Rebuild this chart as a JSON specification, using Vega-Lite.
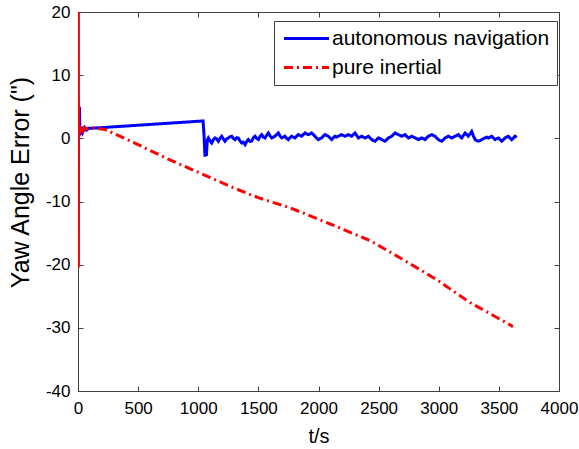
{
  "$schema": "https://vega.github.io/schema/vega-lite/v6.json",
  "width": 481,
  "height": 379,
  "autosize": "none",
  "padding": {"left": 78, "top": 12, "right": 20, "bottom": 58},
  "background": "white",
  "config": {
    "font": "Liberation Sans",
    "view": {"stroke": "#404040", "strokeWidth": 1},
    "axis": {
      "grid": false,
      "domainColor": "#404040",
      "tickColor": "#404040",
      "labelColor": "black",
      "labelFontSize": 17,
      "titleColor": "black",
      "titleFontSize": 20,
      "titleFontWeight": "normal",
      "tickSize": 5
    }
  },
  "data": {
    "values": [
      {"series": "autonomous navigation", "t": 0, "v": 20},
      {"series": "autonomous navigation", "t": 0.5, "v": -20},
      {"series": "autonomous navigation", "t": 3, "v": 0},
      {"series": "autonomous navigation", "t": 8, "v": 4.5},
      {"series": "autonomous navigation", "t": 12, "v": 5},
      {"series": "autonomous navigation", "t": 16, "v": 0.5},
      {"series": "autonomous navigation", "t": 22, "v": 1.2},
      {"series": "autonomous navigation", "t": 30, "v": 1.8},
      {"series": "autonomous navigation", "t": 40, "v": 1.0},
      {"series": "autonomous navigation", "t": 55, "v": 1.7},
      {"series": "autonomous navigation", "t": 70, "v": 1.3},
      {"series": "autonomous navigation", "t": 90, "v": 1.6},
      {"series": "autonomous navigation", "t": 120, "v": 1.6},
      {"series": "autonomous navigation", "t": 200, "v": 1.7},
      {"series": "autonomous navigation", "t": 400, "v": 1.95},
      {"series": "autonomous navigation", "t": 600, "v": 2.2},
      {"series": "autonomous navigation", "t": 800, "v": 2.45},
      {"series": "autonomous navigation", "t": 1000, "v": 2.7},
      {"series": "autonomous navigation", "t": 1040, "v": 2.75},
      {"series": "autonomous navigation", "t": 1048, "v": 0.5},
      {"series": "autonomous navigation", "t": 1056, "v": -2.9},
      {"series": "autonomous navigation", "t": 1062, "v": -1.5},
      {"series": "autonomous navigation", "t": 1068, "v": -2.8},
      {"series": "autonomous navigation", "t": 1075, "v": -0.3},
      {"series": "autonomous navigation", "t": 1084, "v": 0.06},
      {"series": "autonomous navigation", "t": 1098, "v": -0.4},
      {"series": "autonomous navigation", "t": 1112, "v": -0.73},
      {"series": "autonomous navigation", "t": 1126, "v": -0.2},
      {"series": "autonomous navigation", "t": 1139, "v": 0.06},
      {"series": "autonomous navigation", "t": 1153, "v": -0.1},
      {"series": "autonomous navigation", "t": 1167, "v": -0.46},
      {"series": "autonomous navigation", "t": 1181, "v": 0.0},
      {"series": "autonomous navigation", "t": 1195, "v": 0.33},
      {"series": "autonomous navigation", "t": 1209, "v": -0.1},
      {"series": "autonomous navigation", "t": 1222, "v": -0.46},
      {"series": "autonomous navigation", "t": 1236, "v": -0.1},
      {"series": "autonomous navigation", "t": 1250, "v": 0.06},
      {"series": "autonomous navigation", "t": 1264, "v": 0.25},
      {"series": "autonomous navigation", "t": 1278, "v": 0.33},
      {"series": "autonomous navigation", "t": 1292, "v": 0.0},
      {"series": "autonomous navigation", "t": 1306, "v": -0.2},
      {"series": "autonomous navigation", "t": 1320, "v": 0.1},
      {"series": "autonomous navigation", "t": 1333, "v": 0.06},
      {"series": "autonomous navigation", "t": 1347, "v": -0.4},
      {"series": "autonomous navigation", "t": 1361, "v": -0.73},
      {"series": "autonomous navigation", "t": 1375, "v": -0.6},
      {"series": "autonomous navigation", "t": 1389, "v": -1.0},
      {"series": "autonomous navigation", "t": 1403, "v": -0.5},
      {"series": "autonomous navigation", "t": 1417, "v": -0.2},
      {"series": "autonomous navigation", "t": 1430, "v": -0.5},
      {"series": "autonomous navigation", "t": 1444, "v": -0.46},
      {"series": "autonomous navigation", "t": 1458, "v": 0.1},
      {"series": "autonomous navigation", "t": 1472, "v": 0.33},
      {"series": "autonomous navigation", "t": 1486, "v": 0.0},
      {"series": "autonomous navigation", "t": 1500, "v": -0.2},
      {"series": "autonomous navigation", "t": 1514, "v": 0.3},
      {"series": "autonomous navigation", "t": 1527, "v": 0.59},
      {"series": "autonomous navigation", "t": 1541, "v": 0.2},
      {"series": "autonomous navigation", "t": 1555, "v": 0.06},
      {"series": "autonomous navigation", "t": 1569, "v": 0.5},
      {"series": "autonomous navigation", "t": 1583, "v": 0.85},
      {"series": "autonomous navigation", "t": 1597, "v": 0.4},
      {"series": "autonomous navigation", "t": 1611, "v": 0.06},
      {"series": "autonomous navigation", "t": 1625, "v": 0.2},
      {"series": "autonomous navigation", "t": 1638, "v": 0.33},
      {"series": "autonomous navigation", "t": 1652, "v": 0.6},
      {"series": "autonomous navigation", "t": 1666, "v": 0.85},
      {"series": "autonomous navigation", "t": 1680, "v": 0.4},
      {"series": "autonomous navigation", "t": 1694, "v": 0.06},
      {"series": "autonomous navigation", "t": 1708, "v": 0.2},
      {"series": "autonomous navigation", "t": 1721, "v": 0.33},
      {"series": "autonomous navigation", "t": 1735, "v": 0.0},
      {"series": "autonomous navigation", "t": 1749, "v": -0.2},
      {"series": "autonomous navigation", "t": 1763, "v": 0.1},
      {"series": "autonomous navigation", "t": 1777, "v": 0.33},
      {"series": "autonomous navigation", "t": 1791, "v": 0.2},
      {"series": "autonomous navigation", "t": 1805, "v": 0.06},
      {"series": "autonomous navigation", "t": 1819, "v": 0.35},
      {"series": "autonomous navigation", "t": 1832, "v": 0.59},
      {"series": "autonomous navigation", "t": 1846, "v": 0.45},
      {"series": "autonomous navigation", "t": 1860, "v": 0.33},
      {"series": "autonomous navigation", "t": 1874, "v": 0.6},
      {"series": "autonomous navigation", "t": 1888, "v": 0.85},
      {"series": "autonomous navigation", "t": 1902, "v": 0.7},
      {"series": "autonomous navigation", "t": 1915, "v": 0.59},
      {"series": "autonomous navigation", "t": 1929, "v": 0.7},
      {"series": "autonomous navigation", "t": 1943, "v": 0.85},
      {"series": "autonomous navigation", "t": 1957, "v": 0.6},
      {"series": "autonomous navigation", "t": 1971, "v": 0.33},
      {"series": "autonomous navigation", "t": 1985, "v": 0.0},
      {"series": "autonomous navigation", "t": 1999, "v": -0.2},
      {"series": "autonomous navigation", "t": 2013, "v": -0.05},
      {"series": "autonomous navigation", "t": 2026, "v": 0.06},
      {"series": "autonomous navigation", "t": 2040, "v": 0.35},
      {"series": "autonomous navigation", "t": 2054, "v": 0.59},
      {"series": "autonomous navigation", "t": 2068, "v": 0.45},
      {"series": "autonomous navigation", "t": 2082, "v": 0.33},
      {"series": "autonomous navigation", "t": 2096, "v": 0.05},
      {"series": "autonomous navigation", "t": 2110, "v": -0.2},
      {"series": "autonomous navigation", "t": 2124, "v": 0.1},
      {"series": "autonomous navigation", "t": 2137, "v": 0.33},
      {"series": "autonomous navigation", "t": 2151, "v": 0.2},
      {"series": "autonomous navigation", "t": 2165, "v": 0.33},
      {"series": "autonomous navigation", "t": 2179, "v": 0.45},
      {"series": "autonomous navigation", "t": 2193, "v": 0.59},
      {"series": "autonomous navigation", "t": 2207, "v": 0.45},
      {"series": "autonomous navigation", "t": 2220, "v": 0.33},
      {"series": "autonomous navigation", "t": 2234, "v": 0.45},
      {"series": "autonomous navigation", "t": 2248, "v": 0.59},
      {"series": "autonomous navigation", "t": 2262, "v": 0.45},
      {"series": "autonomous navigation", "t": 2276, "v": 0.33},
      {"series": "autonomous navigation", "t": 2290, "v": 0.6},
      {"series": "autonomous navigation", "t": 2304, "v": 0.85},
      {"series": "autonomous navigation", "t": 2318, "v": 0.45},
      {"series": "autonomous navigation", "t": 2332, "v": 0.06},
      {"series": "autonomous navigation", "t": 2345, "v": 0.2},
      {"series": "autonomous navigation", "t": 2359, "v": 0.33},
      {"series": "autonomous navigation", "t": 2373, "v": 0.2},
      {"series": "autonomous navigation", "t": 2387, "v": 0.06},
      {"series": "autonomous navigation", "t": 2401, "v": 0.2},
      {"series": "autonomous navigation", "t": 2415, "v": 0.33},
      {"series": "autonomous navigation", "t": 2429, "v": 0.05},
      {"series": "autonomous navigation", "t": 2443, "v": -0.2},
      {"series": "autonomous navigation", "t": 2457, "v": -0.35},
      {"series": "autonomous navigation", "t": 2470, "v": -0.46},
      {"series": "autonomous navigation", "t": 2484, "v": -0.2},
      {"series": "autonomous navigation", "t": 2498, "v": 0.06},
      {"series": "autonomous navigation", "t": 2512, "v": -0.05},
      {"series": "autonomous navigation", "t": 2526, "v": -0.2},
      {"series": "autonomous navigation", "t": 2540, "v": -0.35},
      {"series": "autonomous navigation", "t": 2553, "v": -0.46},
      {"series": "autonomous navigation", "t": 2567, "v": -0.2},
      {"series": "autonomous navigation", "t": 2581, "v": 0.06},
      {"series": "autonomous navigation", "t": 2595, "v": 0.2},
      {"series": "autonomous navigation", "t": 2609, "v": 0.33},
      {"series": "autonomous navigation", "t": 2623, "v": 0.6},
      {"series": "autonomous navigation", "t": 2637, "v": 0.85},
      {"series": "autonomous navigation", "t": 2650, "v": 0.7},
      {"series": "autonomous navigation", "t": 2664, "v": 0.59},
      {"series": "autonomous navigation", "t": 2678, "v": 0.45},
      {"series": "autonomous navigation", "t": 2692, "v": 0.33},
      {"series": "autonomous navigation", "t": 2706, "v": 0.45},
      {"series": "autonomous navigation", "t": 2720, "v": 0.59},
      {"series": "autonomous navigation", "t": 2734, "v": 0.3},
      {"series": "autonomous navigation", "t": 2748, "v": 0.06},
      {"series": "autonomous navigation", "t": 2762, "v": 0.2},
      {"series": "autonomous navigation", "t": 2775, "v": 0.33},
      {"series": "autonomous navigation", "t": 2789, "v": 0.2},
      {"series": "autonomous navigation", "t": 2803, "v": 0.06},
      {"series": "autonomous navigation", "t": 2817, "v": -0.05},
      {"series": "autonomous navigation", "t": 2831, "v": -0.2},
      {"series": "autonomous navigation", "t": 2845, "v": -0.05},
      {"series": "autonomous navigation", "t": 2858, "v": 0.06},
      {"series": "autonomous navigation", "t": 2872, "v": -0.05},
      {"series": "autonomous navigation", "t": 2886, "v": -0.2},
      {"series": "autonomous navigation", "t": 2900, "v": 0.1},
      {"series": "autonomous navigation", "t": 2914, "v": 0.33},
      {"series": "autonomous navigation", "t": 2928, "v": 0.45},
      {"series": "autonomous navigation", "t": 2942, "v": 0.59},
      {"series": "autonomous navigation", "t": 2955, "v": 0.45},
      {"series": "autonomous navigation", "t": 2969, "v": 0.33},
      {"series": "autonomous navigation", "t": 2983, "v": 0.05},
      {"series": "autonomous navigation", "t": 2997, "v": -0.2},
      {"series": "autonomous navigation", "t": 3011, "v": -0.35},
      {"series": "autonomous navigation", "t": 3025, "v": -0.46},
      {"series": "autonomous navigation", "t": 3039, "v": -0.2},
      {"series": "autonomous navigation", "t": 3052, "v": 0.06},
      {"series": "autonomous navigation", "t": 3066, "v": 0.2},
      {"series": "autonomous navigation", "t": 3080, "v": 0.33},
      {"series": "autonomous navigation", "t": 3094, "v": 0.2},
      {"series": "autonomous navigation", "t": 3108, "v": 0.06},
      {"series": "autonomous navigation", "t": 3122, "v": 0.2},
      {"series": "autonomous navigation", "t": 3136, "v": 0.33},
      {"series": "autonomous navigation", "t": 3150, "v": 0.45},
      {"series": "autonomous navigation", "t": 3163, "v": 0.59},
      {"series": "autonomous navigation", "t": 3177, "v": 0.3},
      {"series": "autonomous navigation", "t": 3191, "v": 0.06},
      {"series": "autonomous navigation", "t": 3205, "v": 0.45},
      {"series": "autonomous navigation", "t": 3219, "v": 0.85},
      {"series": "autonomous navigation", "t": 3233, "v": 0.6},
      {"series": "autonomous navigation", "t": 3246, "v": 0.33},
      {"series": "autonomous navigation", "t": 3260, "v": 0.7},
      {"series": "autonomous navigation", "t": 3274, "v": 1.1},
      {"series": "autonomous navigation", "t": 3288, "v": 0.4},
      {"series": "autonomous navigation", "t": 3302, "v": -0.2},
      {"series": "autonomous navigation", "t": 3316, "v": -0.35},
      {"series": "autonomous navigation", "t": 3330, "v": -0.46},
      {"series": "autonomous navigation", "t": 3344, "v": -0.35},
      {"series": "autonomous navigation", "t": 3357, "v": -0.2},
      {"series": "autonomous navigation", "t": 3371, "v": -0.05},
      {"series": "autonomous navigation", "t": 3385, "v": 0.06},
      {"series": "autonomous navigation", "t": 3399, "v": 0.2},
      {"series": "autonomous navigation", "t": 3413, "v": 0.06},
      {"series": "autonomous navigation", "t": 3427, "v": 0.2},
      {"series": "autonomous navigation", "t": 3441, "v": 0.33},
      {"series": "autonomous navigation", "t": 3455, "v": 0.05},
      {"series": "autonomous navigation", "t": 3468, "v": -0.2},
      {"series": "autonomous navigation", "t": 3482, "v": -0.05},
      {"series": "autonomous navigation", "t": 3496, "v": 0.06},
      {"series": "autonomous navigation", "t": 3510, "v": -0.2},
      {"series": "autonomous navigation", "t": 3524, "v": -0.46},
      {"series": "autonomous navigation", "t": 3538, "v": -0.2},
      {"series": "autonomous navigation", "t": 3551, "v": 0.06},
      {"series": "autonomous navigation", "t": 3565, "v": 0.2},
      {"series": "autonomous navigation", "t": 3579, "v": 0.33},
      {"series": "autonomous navigation", "t": 3593, "v": 0.05},
      {"series": "autonomous navigation", "t": 3607, "v": -0.2},
      {"series": "autonomous navigation", "t": 3621, "v": 0.05},
      {"series": "autonomous navigation", "t": 3635, "v": 0.33},
      {"series": "autonomous navigation", "t": 3648, "v": 0.15},
      {"series": "pure inertial", "t": 0, "v": 20},
      {"series": "pure inertial", "t": 0.4, "v": -20.5},
      {"series": "pure inertial", "t": 0.8, "v": 20},
      {"series": "pure inertial", "t": 1.2, "v": -20.5},
      {"series": "pure inertial", "t": 1.6, "v": 20},
      {"series": "pure inertial", "t": 2.0, "v": -20.5},
      {"series": "pure inertial", "t": 2.4, "v": 20},
      {"series": "pure inertial", "t": 2.8, "v": -20},
      {"series": "pure inertial", "t": 4, "v": 5.8},
      {"series": "pure inertial", "t": 6, "v": 2},
      {"series": "pure inertial", "t": 8, "v": 0},
      {"series": "pure inertial", "t": 11, "v": 2.2},
      {"series": "pure inertial", "t": 14, "v": 0.5},
      {"series": "pure inertial", "t": 18, "v": 1.8},
      {"series": "pure inertial", "t": 24, "v": 0.9},
      {"series": "pure inertial", "t": 32, "v": 1.7},
      {"series": "pure inertial", "t": 42, "v": 1.2},
      {"series": "pure inertial", "t": 55, "v": 1.7},
      {"series": "pure inertial", "t": 70, "v": 1.5},
      {"series": "pure inertial", "t": 100, "v": 1.7},
      {"series": "pure inertial", "t": 150, "v": 1.6},
      {"series": "pure inertial", "t": 225, "v": 1.4},
      {"series": "pure inertial", "t": 500, "v": -1.0},
      {"series": "pure inertial", "t": 750, "v": -3.3},
      {"series": "pure inertial", "t": 1015, "v": -5.5},
      {"series": "pure inertial", "t": 1289, "v": -7.8},
      {"series": "pure inertial", "t": 1500, "v": -9.4},
      {"series": "pure inertial", "t": 1763, "v": -11.0},
      {"series": "pure inertial", "t": 2000, "v": -12.8},
      {"series": "pure inertial", "t": 2179, "v": -14.2},
      {"series": "pure inertial", "t": 2440, "v": -16.3},
      {"series": "pure inertial", "t": 2703, "v": -19.2},
      {"series": "pure inertial", "t": 2985, "v": -22.4},
      {"series": "pure inertial", "t": 3260, "v": -26.0},
      {"series": "pure inertial", "t": 3450, "v": -28.0},
      {"series": "pure inertial", "t": 3617, "v": -29.8}
    ]
  },
  "layer": [
    {
      "mark": {"type": "line", "strokeWidth": 3, "clip": true},
      "encoding": {
        "x": {
          "field": "t", "type": "quantitative",
          "scale": {"domain": [0, 4000], "nice": false, "zero": false},
          "axis": {"orient": "bottom", "title": "t/s", "ticks": false, "labelPadding": 9, "values": [0, 500, 1000, 1500, 2000, 2500, 3000, 3500, 4000], "labelExpr": "'' + datum.value", "titlePadding": 10, "labelFlush": false}
        },
        "y": {
          "field": "v", "type": "quantitative",
          "scale": {"domain": [-40, 20], "nice": false, "zero": false},
          "axis": {"orient": "left", "title": "Yaw Angle Error (\")", "titleFontSize": 25, "titleY": 170, "ticks": false, "labelPadding": 8, "values": [-40, -30, -20, -10, 0, 10, 20], "labelExpr": "'' + datum.value", "titlePadding": 12, "labelFlush": false}
        },
        "color": {
          "field": "series", "type": "nominal",
          "scale": {"domain": ["autonomous navigation", "pure inertial"], "range": ["#0000ff", "#ff0000"]},
          "legend": {
            "title": null, "orient": "none", "legendX": 196, "legendY": 9,
            "symbolType": "M-1,0H5", "symbolSize": 225, "symbolStrokeWidth": 3,
            "labelFontSize": 21, "labelColor": "black", "labelOffset": 30,
            "strokeColor": "#404040", "fillColor": "white", "padding": 7, "rowPadding": 7, "labelLimit": 400
          }
        },
        "strokeDash": {
          "field": "series", "type": "nominal",
          "scale": {"domain": ["autonomous navigation", "pure inertial"], "range": [[1, 0], [9, 4, 2, 4]]},
          "legend": {
            "title": null, "orient": "none", "legendX": 196, "legendY": 9,
            "symbolType": "M-1,0H5", "symbolSize": 225, "symbolStrokeWidth": 3,
            "labelFontSize": 21, "labelColor": "black", "labelOffset": 30,
            "strokeColor": "#404040", "fillColor": "white", "padding": 7, "rowPadding": 7, "labelLimit": 400
          }
        }
      }
    },
    {
      "mark": {"type": "point", "opacity": 0},
      "encoding": {
        "x": {
          "field": "t", "type": "quantitative",
          "scale": {"domain": [0, 4000], "nice": false, "zero": false},
          "axis": {"orient": "top", "offset": -379, "title": null, "labels": false, "domain": false, "values": [0, 500, 1000, 1500, 2000, 2500, 3000, 3500, 4000]}
        },
        "y": {
          "field": "v", "type": "quantitative",
          "scale": {"domain": [-40, 20], "nice": false, "zero": false},
          "axis": {"orient": "right", "offset": -481, "title": null, "labels": false, "domain": false, "values": [-40, -30, -20, -10, 0, 10, 20]}
        }
      }
    },
    {
      "mark": {"type": "point", "opacity": 0},
      "encoding": {
        "x": {
          "field": "t", "type": "quantitative",
          "scale": {"domain": [0, 4000], "nice": false, "zero": false},
          "axis": {"orient": "bottom", "offset": -379, "title": null, "labels": false, "domain": false, "values": [0, 500, 1000, 1500, 2000, 2500, 3000, 3500, 4000]}
        },
        "y": {
          "field": "v", "type": "quantitative",
          "scale": {"domain": [-40, 20], "nice": false, "zero": false},
          "axis": {"orient": "left", "offset": -481, "title": null, "labels": false, "domain": false, "values": [-40, -30, -20, -10, 0, 10, 20]}
        }
      }
    }
  ],
  "resolve": {"axis": {"x": "independent", "y": "independent"}}
}
